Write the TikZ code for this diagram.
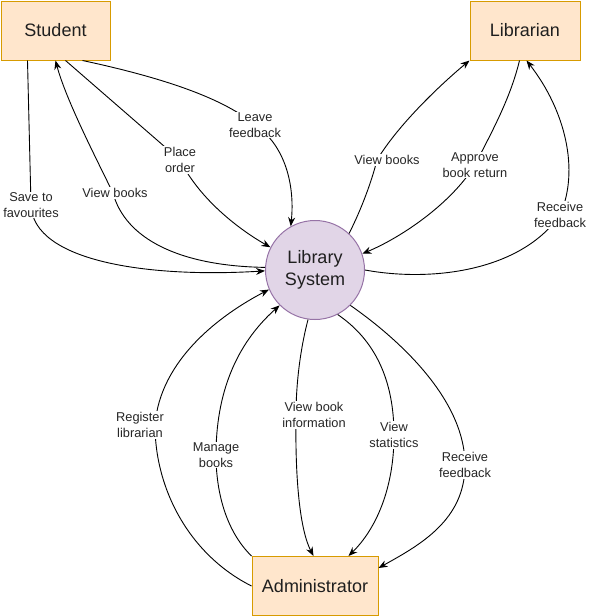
\documentclass[tikz,border=0pt]{standalone}
\usepackage{fontspec}
\setmainfont{Liberation Sans}
\usetikzlibrary{arrows.meta}
\definecolor{boxfill}{RGB}{255,230,204}
\definecolor{boxline}{RGB}{215,155,0}
\definecolor{sysfill}{RGB}{225,213,231}
\definecolor{sysline}{RGB}{150,115,166}

\begin{document}
\begin{tikzpicture}[x=1pt, y=-1pt,
    entity/.style={rectangle, draw=boxline, fill=boxfill, line width=1pt, minimum height=59pt, inner sep=0pt, font=\fontsize{18}{21}\selectfont, text=black!88},
    process/.style={circle, draw=sysline, fill=sysfill, line width=1pt, minimum size=99pt, inner sep=0pt, align=center, font=\fontsize{18}{22}\selectfont, text=black!88},
    flow/.style={-{Stealth[length=9pt,width=7pt]}, line width=0.9pt},
    lbl/.style={fill=white, inner sep=1pt, align=center, font=\fontsize{12.8}{15.8}\selectfont, text=black!85}]
    \useasboundingbox (0,0) rectangle (592,616);
    % Draw entities
    \node[entity, minimum width=109pt] (student) at (55.5,30.5) {Student};
    \node[entity, minimum width=110pt] (librarian) at (525,30.5) {Librarian};
    \node[entity, minimum width=126pt] (admin) at (315,586) {Administrator};
    \node[process] (sys) at (315,270) {Library\\System};
    % Student flows
    \draw[flow] ([xshift=27pt]student.south west) -- (31,205) node[lbl] {Save to\\favourites}
        .. controls (33,262) and (150,278) .. (sys.181);
    \draw[flow] (sys.177) .. controls (178,266) and (125,238) .. (113,193) node[lbl, xshift=2pt] {View books}
        .. controls (97,160) and (66,100) .. ([xshift=55pt]student.south west);
    \draw[flow] ([xshift=65pt]student.south west) -- (180,160) node[lbl] {Place\\order}
        .. controls (200,200) and (240,230) .. (sys.153);
    \draw[flow] ([xshift=82pt]student.south west) .. controls (150,75) and (220,95) .. (255,125) node[lbl] {Leave\\feedback}
        .. controls (285,145) and (295,185) .. (sys.119);
    % Librarian flows
    \draw[flow] (sys.47) .. controls (362,208) and (372,180) .. (377,160) node[lbl, xshift=10pt] {View books}
        .. controls (398,125) and (440,85) .. (librarian.south west);
    \draw[flow] ([xshift=50pt]librarian.south west) .. controls (510,100) and (490,135) .. (475,165) node[lbl] {Approve\\book return}
        .. controls (450,205) and (400,238) .. (sys.19);
    \draw[flow] (sys.0) .. controls (430,282) and (520,272) .. (560,215) node[lbl] {Receive\\feedback}
        .. controls (580,170) and (565,110) .. ([xshift=57pt]librarian.south west);
    % Administrator flows
    \draw[flow] (admin.west) .. controls (190,555) and (155,490) .. (155,425) node[lbl, xshift=-15pt] {Register\\librarian}
        .. controls (160,360) and (220,315) .. (sys.203);
    \draw[flow] (admin.north west) .. controls (225,530) and (216,490) .. (216,455) node[lbl] {Manage\\books}
        .. controls (216,395) and (235,345) .. (sys.225);
    \draw[flow] (sys.262) .. controls (300,350) and (296,385) .. (296,415) node[lbl, xshift=18pt] {View book\\information}
        .. controls (295,480) and (300,530) .. ([xshift=62pt]admin.north west);
    \draw[flow] (sys.297) .. controls (375,340) and (394,380) .. (394,435) node[lbl] {View\\statistics}
        .. controls (394,490) and (375,530) .. ([xshift=97pt]admin.north west);
    \draw[flow] (sys.315) .. controls (400,340) and (465,400) .. (465,465) node[lbl] {Receive\\feedback}
        .. controls (465,520) and (420,545) .. ([yshift=-12pt]admin.north east);
\end{tikzpicture}
\end{document}
